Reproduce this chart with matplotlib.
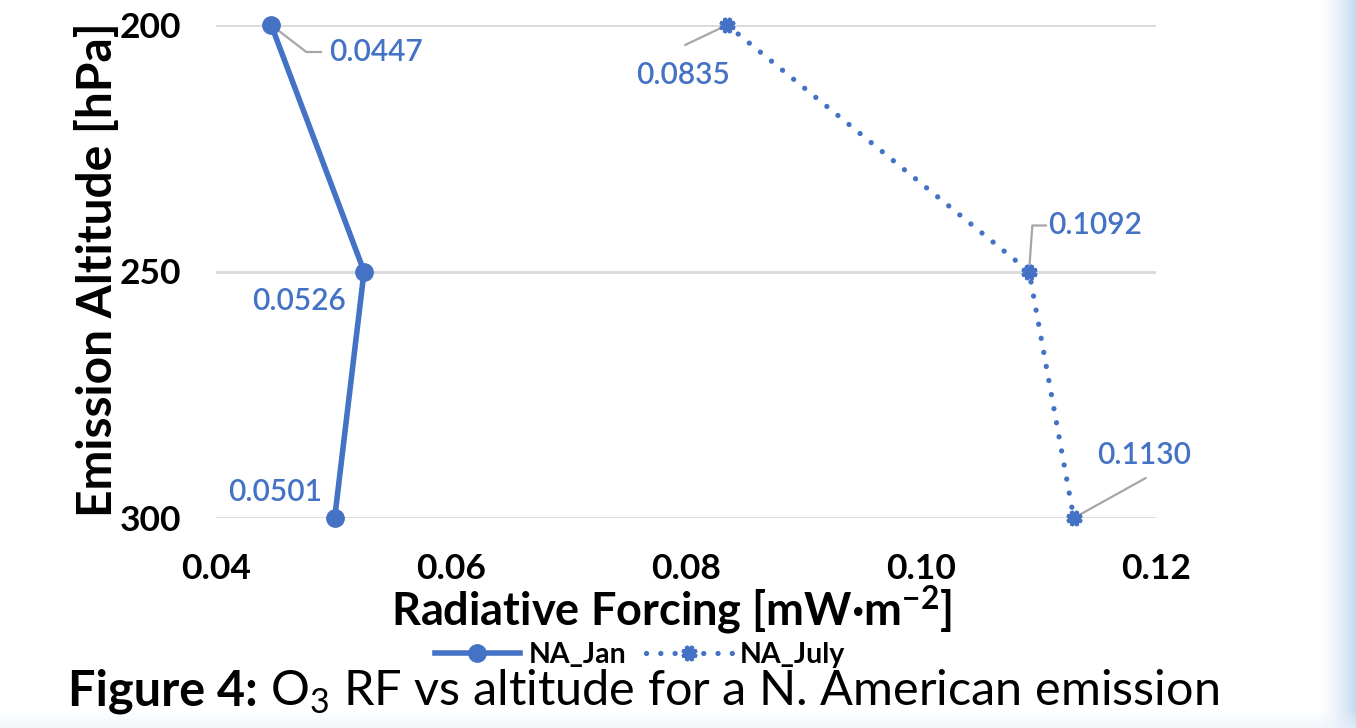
import matplotlib.pyplot as plt
import numpy as np

# data
altitude = [200, 250, 300]          # hPa
na_jan = [0.0447, 0.0526, 0.0501]   # mW m-2
na_july = [0.0835, 0.1092, 0.1130]
x_ticks = [0.04, 0.06, 0.08, 0.10, 0.12]

BLUE = '#4472C4'
GRID = '#d9d9d9'
LEADER = '#a6a6a6'

plt.rcParams['font.family'] = ['Lato', 'DejaVu Sans']
plt.rcParams['mathtext.fontset'] = 'custom'
plt.rcParams['mathtext.rm'] = 'Lato'
plt.rcParams['mathtext.bf'] = 'Lato:bold'

W, H = 1356, 728
fig = plt.figure(figsize=(W / 100, H / 100), dpi=100)

# soft slide background fades on the right and bottom edges
bg = fig.add_axes([0, 0, 1, 1], zorder=-10)
bg.axis('off')
xx = np.clip((np.arange(W) - 1318) / 38.0, 0, 1) ** 1.5
yy = np.clip((np.arange(H) - 710) / 18.0, 0, 1)
img = np.ones((H, W, 3))
right_col = np.array([0.76, 0.85, 0.94])
bottom_col = np.array([0.92, 0.95, 0.98])
img = img * (1 - xx[None, :, None]) + right_col * xx[None, :, None]
img = img * (1 - 0.7 * yy[:, None, None]) + bottom_col * 0.7 * yy[:, None, None]
bg.imshow(img, aspect='auto', extent=[0, 1, 0, 1])
bg.set_xlim(0, 1)
bg.set_ylim(0, 1)

ax = fig.add_axes([216 / W, 1 - 518 / H, 940 / W, 493 / H])
ax.patch.set_alpha(0)

ax.plot(na_jan, altitude, color=BLUE, lw=4.0, marker='o', ms=12.5,
        label='NA_Jan', zorder=4, clip_on=False)
ax.plot(na_july, altitude, color=BLUE, lw=3.8, ls=(0, (0.01, 2.7)),
        dash_capstyle='round', marker=(8, 1, 22.5), ms=11, mew=2.5,
        label='NA_July', zorder=4, clip_on=False)

ax.set_xlim(0.04, 0.12)
ax.set_ylim(300, 200)
ax.set_xticks(x_ticks)
ax.set_xticklabels([f'{v:.2f}' for v in x_ticks])
ax.set_yticks(altitude)
ax.grid(axis='y', color=GRID, lw=2)
ax.set_axisbelow(True)
for s in ax.spines.values():
    s.set_visible(False)
ax.tick_params(axis='x', length=0, labelsize=25.5, pad=25)
ax.tick_params(axis='y', length=0, labelsize=25.5, pad=25)
for lbl in ax.get_xticklabels() + ax.get_yticklabels():
    lbl.set_fontweight('bold')

ax.set_xlabel(r'Radiative Forcing [mW·m$^{\mathbf{-2}}$]', fontsize=32.5,
              fontweight='bold', va='center')
ax.xaxis.set_label_coords(0.485, -0.187)
ax.set_ylabel('Emission Altitude [hPa]', fontsize=34.5, fontweight='bold',
              va='center')
ax.yaxis.set_label_coords(-0.126, 0.503)


def leader(x, y, dx, dy, conn='arc3'):
    ax.annotate('', xy=(x, y), xytext=(dx, dy), textcoords='offset pixels',
                arrowprops=dict(arrowstyle='-', color=LEADER, lw=1.6,
                                shrinkA=0, shrinkB=0, connectionstyle=conn))


def label(x, y, dx, dy, ha):
    ax.annotate(f'{x:.4f}', xy=(x, y), xytext=(dx, dy),
                textcoords='offset pixels', ha=ha, va='center',
                fontsize=21.5, color=BLUE, fontweight='semibold')


# NA_Jan labels
leader(na_jan[0], altitude[0], 50, -27, 'angle,angleA=0,angleB=-37.6,rad=0')
label(na_jan[0], altitude[0], 58, -27, 'left')
label(na_jan[1], altitude[1], -18, -29, 'right')
label(na_jan[2], altitude[2], -13, 26, 'right')

# NA_July labels
leader(na_july[0], altitude[0], -42, -20)
label(na_july[0], altitude[0], -44, -50, 'center')
leader(na_july[1], altitude[1], 17, 46, 'angle,angleA=0,angleB=86,rad=0')
label(na_july[1], altitude[1], 19, 46, 'left')
leader(na_july[2], altitude[2], 72, 40)
label(na_july[2], altitude[2], 70, 63, 'center')

fig.legend(loc='center', bbox_to_anchor=(640 / W, 1 - 655 / H), ncol=2,
           frameon=False, prop={'size': 20.5, 'weight': 'bold'},
           handlelength=3, handletextpad=0.3, columnspacing=0.7,
           borderaxespad=0, borderpad=0)

# caption: bold lead-in followed by regular text on the same baseline
cap_y = 1 - 706 / H
t1 = fig.text(68 / W, cap_y, 'Figure 4:', fontsize=35, fontweight='bold',
              va='baseline', ha='left')
fig.canvas.draw()
x1 = t1.get_window_extent().x1 / W
fig.text(x1, cap_y, ' O$_3$ RF vs altitude for a N. American emission',
         fontsize=35, va='baseline', ha='left')

fig.savefig('out.png', dpi=100)
